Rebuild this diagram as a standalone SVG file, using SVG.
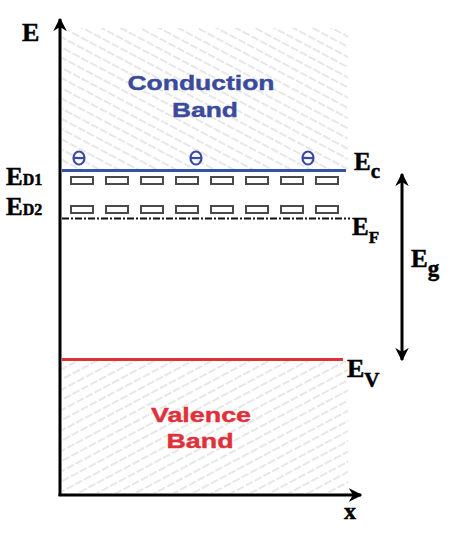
<svg xmlns="http://www.w3.org/2000/svg" width="463" height="545" viewBox="0 0 463 545">
<defs>
<style>
.lbl{font-family:"Liberation Serif","Times New Roman",serif;font-weight:bold;fill:#000;stroke:#000;stroke-width:0.5}
.band{font-family:"Liberation Sans",Arial,sans-serif;font-weight:bold;font-size:20px;stroke-width:0.4}
.lvl{fill:#fff;stroke:#4a4a4a;stroke-width:2}
.hatch{stroke:#cfcfcf;stroke-width:1;stroke-dasharray:7 2 3 2}
</style>
<pattern id="hc" width="10" height="9" patternUnits="userSpaceOnUse" patternTransform="rotate(28)">
<line class="hatch" x1="0" y1="4" x2="10" y2="4"/>
</pattern>
<pattern id="hv" width="10" height="9" patternUnits="userSpaceOnUse" patternTransform="rotate(-28)">
<line class="hatch" x1="0" y1="4" x2="10" y2="4"/>
</pattern>
<marker id="ah" viewBox="0 0 10 10" refX="9" refY="5" markerWidth="4.5" markerHeight="4.5" orient="auto-start-reverse" markerUnits="strokeWidth">
<path d="M0,0 L10,5 L0,10 L3,5 Z" fill="#000"/>
</marker>
</defs>
<rect width="463" height="545" fill="#fff"/>
<g id="conduction-band">
<rect x="62" y="28" width="286" height="141" fill="url(#hc)"/>
<text class="band" fill="#3a4a9c" stroke="#3a4a9c" x="201" y="90" text-anchor="middle" textLength="147" lengthAdjust="spacingAndGlyphs">Conduction</text>
<text class="band" fill="#3a4a9c" stroke="#3a4a9c" x="205" y="117" text-anchor="middle" textLength="66" lengthAdjust="spacingAndGlyphs">Band</text>
</g>
<g id="valence-band">
<rect x="62" y="361" width="286" height="132" fill="url(#hv)"/>
<text class="band" fill="#e0303a" stroke="#e0303a" x="201" y="422" text-anchor="middle" textLength="100" lengthAdjust="spacingAndGlyphs">Valence</text>
<text class="band" fill="#e0303a" stroke="#e0303a" x="200" y="448" text-anchor="middle" textLength="67" lengthAdjust="spacingAndGlyphs">Band</text>
</g>
<g id="electrons" fill="none" stroke="#3a4aa8" stroke-width="2.2">
<ellipse cx="79" cy="158" rx="5.5" ry="6.5"/><line x1="73.5" y1="158" x2="84.5" y2="158"/>
<ellipse cx="196" cy="158" rx="5.5" ry="6.5"/><line x1="190.5" y1="158" x2="201.5" y2="158"/>
<ellipse cx="308" cy="158" rx="5.5" ry="6.5"/><line x1="302.5" y1="158" x2="313.5" y2="158"/>
</g>
<g id="Ec-level">
<line x1="62" y1="170.5" x2="346" y2="170.5" stroke="#3553a3" stroke-width="3"/>
<text class="lbl" x="354" y="170" font-size="25">E<tspan font-size="21" dy="8">c</tspan></text>
</g>
<g id="ED1-level">
<rect class="lvl" x="71" y="177" width="22" height="7"/>
<rect class="lvl" x="106" y="177" width="22" height="7"/>
<rect class="lvl" x="141" y="177" width="22" height="7"/>
<rect class="lvl" x="176" y="177" width="22" height="7"/>
<rect class="lvl" x="211" y="177" width="22" height="7"/>
<rect class="lvl" x="246" y="177" width="22" height="7"/>
<rect class="lvl" x="281" y="177" width="22" height="7"/>
<rect class="lvl" x="316" y="177" width="22" height="7"/>
<text class="lbl" x="6" y="185" font-size="25">E<tspan font-size="16">D1</tspan></text>
</g>
<g id="ED2-level">
<rect class="lvl" x="71" y="206" width="22" height="7"/>
<rect class="lvl" x="106" y="206" width="22" height="7"/>
<rect class="lvl" x="141" y="206" width="22" height="7"/>
<rect class="lvl" x="176" y="206" width="22" height="7"/>
<rect class="lvl" x="211" y="206" width="22" height="7"/>
<rect class="lvl" x="246" y="206" width="22" height="7"/>
<rect class="lvl" x="281" y="206" width="22" height="7"/>
<rect class="lvl" x="316" y="206" width="22" height="7"/>
<text class="lbl" x="6" y="215" font-size="25">E<tspan font-size="16">D2</tspan></text>
</g>
<g id="EF-level">
<line x1="62" y1="218.5" x2="350" y2="218.5" stroke="#111" stroke-width="2" stroke-dasharray="7 2 2 2"/>
<text class="lbl" x="352" y="235" font-size="25">E<tspan font-size="17" dy="8">F</tspan></text>
</g>
<g id="Ev-level">
<line x1="62" y1="359.5" x2="343" y2="359.5" stroke="#e03038" stroke-width="3"/>
<text class="lbl" x="347" y="377" font-size="26">E<tspan font-size="21" dy="10">V</tspan></text>
</g>
<g id="Eg-label">
<text class="lbl" x="411" y="267" font-size="25">E<tspan font-size="23" dy="9">g</tspan></text>
</g>
<g id="axes-labels">
<text class="lbl" x="22" y="41" font-size="26">E</text>
<text class="lbl" x="344" y="519" font-size="24">x</text>
</g>
<g id="connectors" stroke="#000" fill="none">
<line x1="60" y1="496" x2="60" y2="19" stroke-width="3" marker-end="url(#ah)"/>
<line x1="58.5" y1="495" x2="361" y2="495" stroke-width="3" marker-end="url(#ah)"/>
<line x1="402" y1="174" x2="402" y2="360" stroke-width="3" marker-start="url(#ah)" marker-end="url(#ah)"/>
</g>
</svg>
